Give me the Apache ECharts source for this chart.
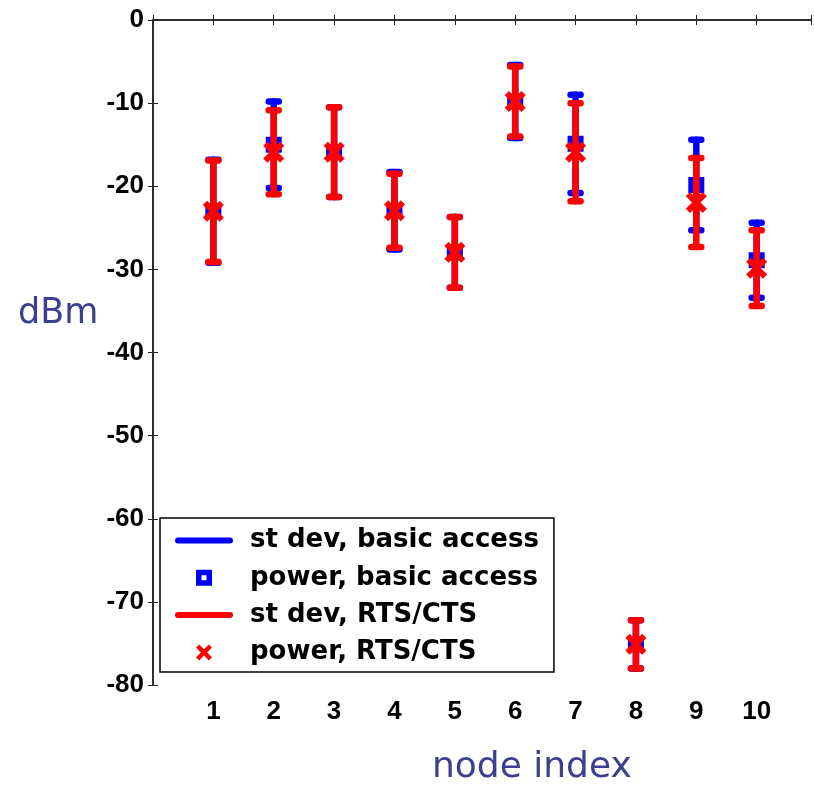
<!DOCTYPE html>
<html>
<head>
<meta charset="utf-8">
<script src="https://cdn.jsdelivr.net/npm/echarts@6/dist/echarts.min.js"></script>
<style>
  html, body { margin: 0; padding: 0; background: #fff; }
  #chart { width: 814px; height: 790px; }
</style>
</head>
<body>
<div id="chart"></div>
<script>
// node index on the x axis
const nodes = [1, 2, 3, 4, 5, 6, 7, 8, 9, 10];
// basic access: mean power (dBm) and standard deviation
const basicMean = [-23, -15, -15.9, -22.95, -27.95, -9.8, -14.9, -75.1, -19.85, -28.9];
const basicStd = [6.2, 5.2, 5.4, 4.65, 4.25, 4.4, 5.9, 2.9, 5.45, 4.5];
// RTS/CTS: mean power (dBm) and standard deviation
const rtsMean = [-23, -15.9, -15.9, -22.95, -27.95, -9.8, -15.9, -75.1, -21.95, -29.85];
const rtsStd = [6.1, 5.05, 5.4, 4.45, 4.25, 4.2, 5.9, 2.9, 5.35, 4.55];
const yTicks = [0, -10, -20, -30, -40, -50, -60, -70, -80];

const BLUE = '#0000ff';
const RED = '#ff0000';
const SQUARE = 'path://M0,0h16v16h-16z M5.5,5.5v5h5v-5z';
const CROSS = 'path://M0,4L4,0L10,6L16,0L20,4L14,10L20,16L16,20L10,14L4,20L0,16L6,10Z';
const LINE = 'path://M3,0h52a3,3 0 0 1 0,6h-52a3,3 0 0 1 0,-6z';

const chart = echarts.init(document.getElementById('chart'));

function errData(mean, std) {
  return nodes.map((n, i) => [n, mean[i] - std[i], mean[i] + std[i]]);
}

function errBar(color) {
  return function (params, api) {
    const x = api.value(0);
    const top = api.coord([x, api.value(2)]);
    const bot = api.coord([x, api.value(1)]);
    const hw = 5;
    const style = { stroke: color, lineWidth: 6.5, lineCap: 'round', fill: null };
    return {
      type: 'group',
      children: [
        { type: 'line', shape: { x1: top[0], y1: top[1], x2: bot[0], y2: bot[1] }, style: style },
        { type: 'line', shape: { x1: top[0] - hw, y1: top[1], x2: top[0] + hw, y2: top[1] }, style: style },
        { type: 'line', shape: { x1: bot[0] - hw, y1: bot[1], x2: bot[0] + hw, y2: bot[1] }, style: style }
      ]
    };
  };
}

const axisFont = { fontFamily: 'Liberation Sans, Arial, sans-serif', fontWeight: 'bold', fontSize: 26, color: '#000' };
const axisLine = { show: true, lineStyle: { color: '#222', width: 1.5 } };
const tickIn = { show: true, inside: true, length: 5, lineStyle: { color: '#222', width: 1 } };

const option = {
  animation: false,
  backgroundColor: '#fff',
  grid: { left: 153, top: 20, right: 1, bottom: 105 },
  xAxis: [
    {
      type: 'value', min: 0, max: 10.9, interval: 1, position: 'bottom',
      axisLine: axisLine, axisTick: tickIn, splitLine: { show: false },
      axisLabel: Object.assign({
        margin: 14,
        formatter: v => (v >= 1 && v <= 10 && Number.isInteger(v)) ? String(v) : ''
      }, axisFont)
    },
    {
      type: 'value', min: 0, max: 10.9, interval: 1, position: 'top',
      axisLine: axisLine, axisTick: tickIn, splitLine: { show: false },
      axisLabel: { show: false }
    }
  ],
  yAxis: [
    {
      type: 'value', min: -80, max: 0, interval: 10, position: 'left',
      axisLine: axisLine, axisTick: tickIn, splitLine: { show: false },
      axisLabel: Object.assign({
        margin: 9,
        formatter: v => yTicks.includes(v) ? String(v) : ''
      }, axisFont)
    },
    {
      type: 'value', min: -80, max: 0, interval: 10, position: 'right',
      axisLine: axisLine, axisTick: tickIn, splitLine: { show: false },
      axisLabel: { show: false }
    }
  ],
  legend: {
    orient: 'vertical',
    left: 160, top: 518,
    padding: [9, 15, 6, 15],
    itemWidth: 58, itemHeight: 16, itemGap: 10.3,
    backgroundColor: '#fff',
    borderColor: '#000', borderWidth: 1.5, borderRadius: 0,
    textStyle: {
      fontFamily: 'DejaVu Sans, sans-serif', fontWeight: 'bold', fontSize: 26,
      color: '#000', lineHeight: 27, padding: [0, 0, 0, 12]
    },
    data: [
      { name: 'st dev, basic access', icon: LINE, itemStyle: { color: BLUE, borderWidth: 0 } },
      { name: 'power, basic access', icon: SQUARE, itemStyle: { color: BLUE, borderWidth: 0 } },
      { name: 'st dev, RTS/CTS', icon: LINE, itemStyle: { color: RED, borderWidth: 0 } },
      { name: 'power, RTS/CTS', icon: CROSS, itemStyle: { color: RED, borderWidth: 0 } }
    ]
  },
  graphic: [
    {
      type: 'text', left: 18, top: 296,
      style: { text: 'dBm', font: '35px "DejaVu Sans", sans-serif', fill: '#3b3f8e' }
    },
    {
      type: 'text', left: 432, top: 750,
      style: { text: 'node index', font: '36px "DejaVu Sans", sans-serif', fill: '#3b3f8e' }
    }
  ],
  series: [
    {
      name: 'st dev, basic access', type: 'custom', z: 2,
      itemStyle: { color: BLUE },
      renderItem: errBar(BLUE),
      encode: { x: 0, y: [1, 2] },
      data: errData(basicMean, basicStd)
    },
    {
      name: 'power, basic access', type: 'scatter', z: 3,
      symbol: SQUARE, symbolSize: 16,
      itemStyle: { color: BLUE, opacity: 1 },
      data: nodes.map((n, i) => [n, basicMean[i]])
    },
    {
      name: 'st dev, RTS/CTS', type: 'custom', z: 4,
      itemStyle: { color: RED },
      renderItem: errBar(RED),
      encode: { x: 0, y: [1, 2] },
      data: errData(rtsMean, rtsStd)
    },
    {
      name: 'power, RTS/CTS', type: 'scatter', z: 5,
      symbol: CROSS, symbolSize: 21,
      itemStyle: { color: RED, opacity: 1 },
      data: nodes.map((n, i) => [n, rtsMean[i]])
    }
  ]
};

chart.setOption(option);
</script>
</body>
</html>
